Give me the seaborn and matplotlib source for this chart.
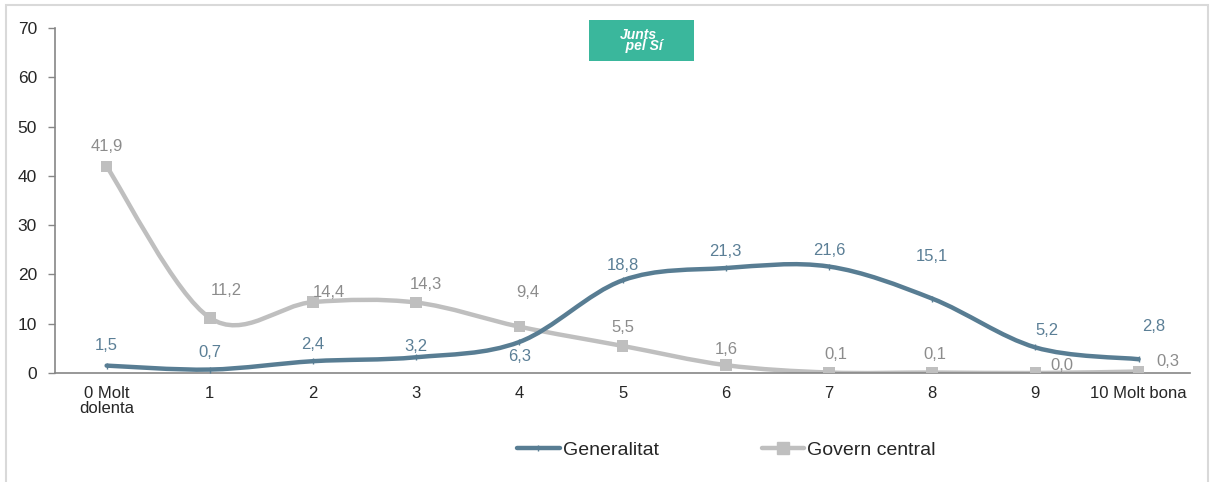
import numpy as np
import pandas as pd
import seaborn as sns
import matplotlib.pyplot as plt
from matplotlib.path import Path
from matplotlib.patches import PathPatch, Rectangle
from matplotlib.lines import Line2D

categories = ["0 Molt\ndolenta", "1", "2", "3", "4", "5", "6", "7", "8", "9",
              "10 Molt bona"]
generalitat = [1.5, 0.7, 2.4, 3.2, 6.3, 18.8, 21.3, 21.6, 15.1, 5.2, 2.8]
govern_central = [41.9, 11.2, 14.4, 14.3, 9.4, 5.5, 1.6, 0.1, 0.1, 0.0, 0.3]

# label offsets in pixels (dx, dy)
gen_offsets = [(0, 20), (0, 17), (0, 17), (0, 11), (0, -15), (0, 15), (0, 17),
               (0, 16), (0, 42), (12, 17), (15, 33)]
gov_offsets = [(0, 20), (16, 27), (16, 10), (10, 18), (8, 34), (0, 18), (0, 16),
               (7, 18), (3, 18), (26, 8), (29, 10)]

GEN_COLOR = "#587D93"
GOV_COLOR = "#BFBFBF"
GEN_TEXT = "#5B7F96"
GOV_TEXT = "#8C8C8C"

sns.set_style("white")
plt.rcParams["font.family"] = ["Liberation Sans", "DejaVu Sans"]


def smooth_path(xs, ys):
    # Excel-like smoothed line: Catmull-Rom segments as cubic beziers
    pts = np.column_stack([xs, ys]).astype(float)
    n = len(pts)
    verts = [pts[0]]
    codes = [Path.MOVETO]
    for i in range(n - 1):
        p0 = pts[max(i - 1, 0)]
        p1 = pts[i]
        p2 = pts[i + 1]
        p3 = pts[min(i + 2, n - 1)]
        c1 = p1 + (p2 - p0) / 6
        c2 = p2 - (p3 - p1) / 6
        verts += [c1, c2, p2]
        codes += [Path.CURVE4] * 3
    return Path(verts, codes)


x = np.arange(len(categories))
df = pd.DataFrame({"x": np.concatenate([x, x]),
                   "value": generalitat + govern_central,
                   "serie": ["Generalitat"] * len(x) + ["Govern central"] * len(x)})

fig = plt.figure(figsize=(12.12, 4.82), dpi=100)
ax = fig.add_axes([0.0454, 0.2261, 0.9366, 0.7158])

ax.add_patch(PathPatch(smooth_path(x, govern_central), facecolor="none",
                       edgecolor=GOV_COLOR, lw=3.2, capstyle="round", zorder=2))
ax.add_patch(PathPatch(smooth_path(x, generalitat), facecolor="none",
                       edgecolor=GEN_COLOR, lw=3.2, capstyle="round", zorder=3))

sns.scatterplot(data=df[df.serie == "Govern central"], x="x", y="value", ax=ax,
                marker="s", s=70, color=GOV_COLOR, edgecolor="none", zorder=4,
                legend=False)
sns.scatterplot(data=df[df.serie == "Generalitat"], x="x", y="value", ax=ax,
                marker="|", s=20, color=GEN_COLOR, linewidth=1.0, zorder=5,
                legend=False)

for i in range(len(x)):
    ax.annotate(f"{generalitat[i]:.1f}".replace(".", ","), (x[i], generalitat[i]),
                xytext=gen_offsets[i], textcoords="offset pixels",
                ha="center", va="center", fontsize=12, color=GEN_TEXT, zorder=6)
    ax.annotate(f"{govern_central[i]:.1f}".replace(".", ","),
                (x[i], govern_central[i]), xytext=gov_offsets[i],
                textcoords="offset pixels", ha="center", va="center",
                fontsize=12, color=GOV_TEXT, zorder=6)

ax.set_xlim(-0.5, 10.5)
ax.set_ylim(0, 70)
ax.set_yticks(range(0, 71, 10))
ax.set_xticks(x)
ax.set_xticklabels(categories, linespacing=1.0)
ax.set_xticks(np.arange(-0.5, 11, 1), minor=True)
ax.tick_params(axis="x", which="major", length=0, pad=9, labelsize=12)
ax.tick_params(axis="x", which="minor", length=5, color="#868686", width=1)
ax.tick_params(axis="y", length=5, color="#868686", width=1, pad=8,
               labelsize=12.5, left=True)
ax.set_xlabel("")
ax.set_ylabel("")
for side in ["top", "right"]:
    ax.spines[side].set_visible(False)
for side in ["left", "bottom"]:
    ax.spines[side].set_color("#868686")
    ax.spines[side].set_linewidth(1.2)

# logo box
fig.patches.append(Rectangle((0.486, 0.873), 0.087, 0.085,
                             transform=fig.transFigure, facecolor="#3AB79C",
                             edgecolor="none"))
fig.text(0.527, 0.916, "Junts\n   pel Sí", transform=fig.transFigure, ha="center",
         va="center", color="white", fontsize=10, fontstyle="italic",
         fontweight="bold", linespacing=0.75)

handles = [Line2D([], [], color=GEN_COLOR, lw=3.2, marker="|", markersize=5,
                  label="Generalitat"),
           Line2D([], [], color=GOV_COLOR, lw=3.2, marker="s", markersize=8,
                  label="Govern central")]
fig.legend(handles=handles, loc="center left", bbox_to_anchor=(0.412, 0.066),
           ncol=2, frameon=False, fontsize=14, handlelength=2.2,
           handletextpad=0.15, columnspacing=5.3)

# outer frame
fig.patches.append(Rectangle((0.005, -0.02), 0.992, 1.01, transform=fig.transFigure,
                             facecolor="none", edgecolor="#D9D9D9", lw=1.5))

fig.savefig("out.png", dpi=100)
